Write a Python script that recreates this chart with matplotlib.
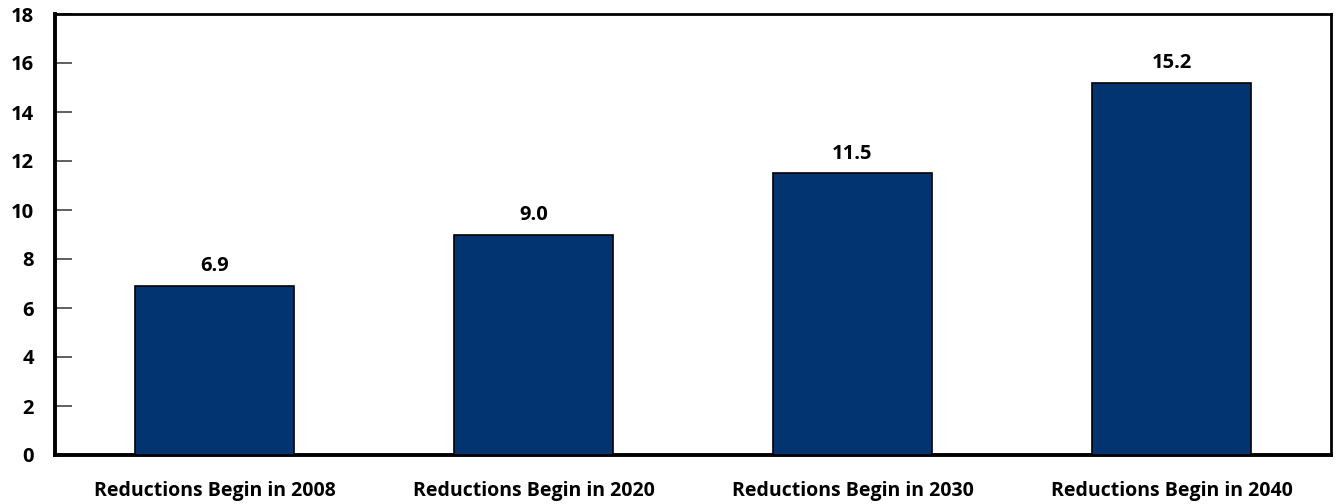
import matplotlib
matplotlib.use("Agg")
import matplotlib.pyplot as plt

categories = ["Reductions Begin in 2008", "Reductions Begin in 2020",
              "Reductions Begin in 2030", "Reductions Begin in 2040"]
values = [6.9, 9.0, 11.5, 15.2]
yticks = [0, 2, 4, 6, 8, 10, 12, 14, 16, 18]

plt.rcParams['font.family'] = ['Open Sans', 'DejaVu Sans']

fig = plt.figure(figsize=(13.4, 5.04), dpi=100)
ax = fig.add_axes([55/1340, 1 - 455/504, (1331-55)/1340, (455-14)/504])

x = list(range(len(categories)))
ax.bar(x, values, width=0.5, color='#033472', edgecolor='black', linewidth=1.2, zorder=3)
for xi, v in zip(x, values):
    ax.annotate(f"{v:.1f}", (xi, v), xytext=(0, 7), textcoords='offset points',
                ha='center', va='bottom', fontsize=14.5, fontweight='bold')

ax.set_xlim(-0.5, 3.5)
ax.set_ylim(0, 18)
ax.set_yticks(yticks)
ax.set_yticklabels([str(t) for t in yticks], fontsize=14.5, fontweight='bold')
ax.tick_params(axis='y', direction='in', length=12, width=1.2, color='#444444', pad=15)
ax.set_xticks(x)
ax.set_xticklabels(categories, fontsize=14, fontweight='bold')
ax.tick_params(axis='x', length=0, pad=19)

for s in ['left', 'bottom']:
    ax.spines[s].set_linewidth(2.8)
for s in ['top', 'right']:
    ax.spines[s].set_linewidth(2.0)

fig.savefig("out.png", dpi=100)
